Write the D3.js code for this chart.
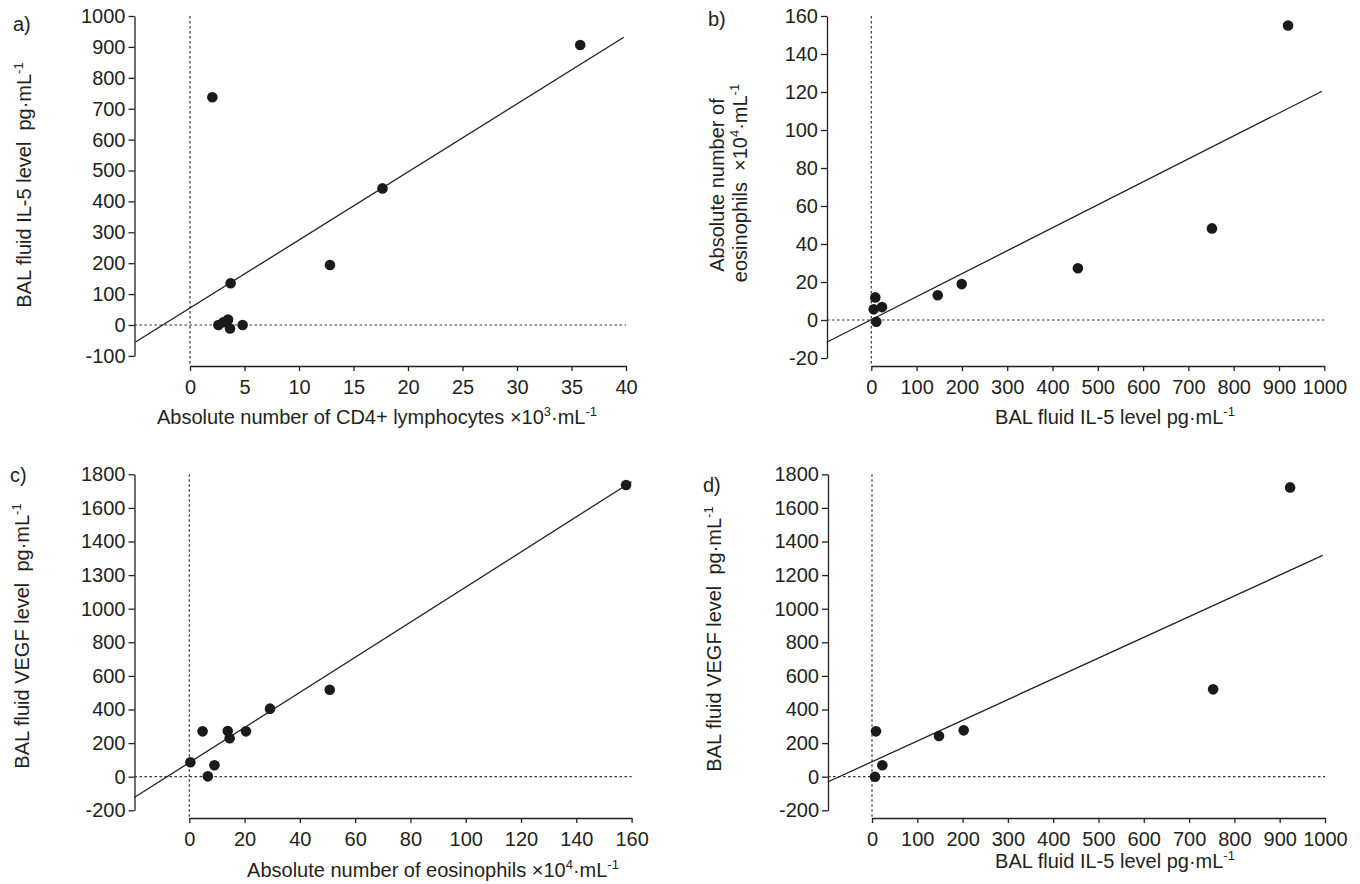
<!DOCTYPE html>
<html>
<head>
<meta charset="utf-8">
<script src="https://cdn.jsdelivr.net/npm/d3@7"></script>
<style>
  body { margin: 0; background: #fff; }
  svg { display: block; }
  text { font-family: "Liberation Sans", Arial, Helvetica, sans-serif; fill: #231f20; }
</style>
</head>
<body>
<svg id="chart" width="1360" height="884"></svg>
<script>
// a) CD4+ lymphocytes vs BAL IL-5
const cd4Count = [35.8, 2.05, 17.66, 12.84, 3.73, 2.6, 3.06, 3.49, 3.67, 4.83];
const il5ByCd4 = [906, 737, 442, 194, 135, 0, 9, 18, -11, 0];
const fitA = [[-5, -55], [39.8, 931]];

// b) BAL IL-5 vs eosinophils
const il5Level = [920, 752, 456, 199.6, 146.6, 8.8, 5.3, 23.6, 11];
const eosByIl5 = [155, 48.2, 27.2, 18.9, 13, 11.9, 5.6, 6.8, -0.9];
const fitB = [[-98.5, -11.7], [995, 120.4]];

// c) eosinophils vs BAL VEGF
const eosCount = [158, 50.8, 29.2, 20.5, 13.9, 14.6, 4.8, 0.4, 9.1, 6.7];
const vegfByEos = [1736, 518, 405, 270, 272, 229, 270, 86, 68, 2];
const fitC = [[-19.9, -124], [160, 1756]];

// d) BAL IL-5 vs BAL VEGF
const il5LevelD = [923, 753, 202.4, 147.9, 8.8, 22.8, 6.6];
const vegfByIl5 = [1722, 520, 276, 242, 270, 68, 0];
const fitD = [[-97.8, -31.7], [995, 1317]];

// ticks
const xTicksA = [0, 5, 10, 15, 20, 25, 30, 35, 40];
const yTicksA = [-100, 0, 100, 200, 300, 400, 500, 600, 700, 800, 900, 1000];
const xTicksB = [0, 100, 200, 300, 400, 500, 600, 700, 800, 900, 1000];
const yTicksB = [-20, 0, 20, 40, 60, 80, 100, 120, 140, 160];
const xTicksC = [0, 20, 40, 60, 80, 100, 120, 140, 160];
const yTicksC = [-200, 0, 200, 400, 600, 800, 1000, 1200, 1400, 1600, 1800];
const yLabelsC = ["-200", "0", "200", "400", "600", "800", "1000", "1300", "1400", "1600", "1800"];
const xTicksD = xTicksB;
const yTicksD = yTicksC;

const svg = d3.select("#chart");

// text helper: parts are [string, isSuperscript]
function richText(sel, parts) {
    let raised = false;
    parts.forEach(p => {
        const t = sel.append("tspan").text(p[0]);
        if (p[1] && !raised) { t.attr("dy", -8).attr("font-size", 13); raised = true; }
        else if (p[1]) { t.attr("font-size", 13); }
        else if (raised) { t.attr("dy", 8); raised = false; }
    });
}

function drawPanel(cfg) {
    const g = svg.append("g");
    const xs = cfg.xTicks, ys = cfg.yTicks;

    const x = d3.scaleLinear().domain([0, xs[xs.length - 1]]).range(cfg.xRange);
    const y0 = d3.scaleLinear().domain([0, ys[ys.length - 1]]).range(cfg.yRange);
    const y = d3.scaleLinear().domain([ys[0], ys[ys.length - 1]]).range([y0(ys[0]), cfg.yRange[1]]);

    const xAxis = g.append("g")
        .attr("transform", `translate(0,${cfg.xAxisY})`)
        .call(d3.axisBottom(x).tickValues(xs).tickSize(5).tickPadding(9).tickSizeOuter(0)
            .tickFormat(d3.format("d")));
    const yAxis = g.append("g")
        .attr("transform", `translate(${cfg.yAxisX},0)`)
        .call(d3.axisLeft(y).tickValues(ys).tickSize(6).tickPadding(3).tickSizeOuter(0)
            .tickFormat((d, i) => cfg.yLabels ? cfg.yLabels[i] : String(d)));

    [xAxis, yAxis].forEach(a => {
        a.selectAll("path, line").attr("stroke", "#231f20").attr("stroke-width", 1.3);
        a.selectAll("text").attr("font-size", 20).attr("fill", "#231f20")
            .style("font-family", '"Liberation Sans", Arial, sans-serif');
    });

    // zero reference lines
    g.append("line")
        .attr("x1", x(0)).attr("x2", x(0))
        .attr("y1", y(ys[ys.length - 1])).attr("y2", cfg.xAxisY)
        .attr("stroke", "#333").attr("stroke-width", 1.2).attr("stroke-dasharray", "2.5,2.5");
    g.append("line")
        .attr("x1", cfg.yAxisX).attr("x2", x(xs[xs.length - 1]))
        .attr("y1", y(0)).attr("y2", y(0))
        .attr("stroke", "#333").attr("stroke-width", 1.2).attr("stroke-dasharray", "2.5,2.5");

    // regression line
    g.append("path")
        .datum(cfg.fit)
        .attr("d", d3.line().x(d => x(d[0])).y(d => y(d[1])))
        .attr("fill", "none").attr("stroke", "#231f20").attr("stroke-width", 1.3);

    g.selectAll("circle")
        .data(cfg.xv.map((v, i) => [v, cfg.yv[i]]))
        .enter().append("circle")
        .attr("cx", d => x(d[0]))
        .attr("cy", d => y(d[1]))
        .attr("r", 5.3)
        .attr("fill", "#1a1a1a");

    g.append("text").attr("x", cfg.tag[1]).attr("y", cfg.tag[2])
        .attr("font-size", 20).text(cfg.tag[0]);

    const xt = g.append("text").attr("x", cfg.xTitlePos[0]).attr("y", cfg.xTitlePos[1])
        .attr("text-anchor", "middle").attr("font-size", 20);
    richText(xt, cfg.xTitle);

    cfg.yTitle.forEach((line, i) => {
        const pos = cfg.yTitlePos[i];
        const yt = g.append("text")
            .attr("transform", `translate(${pos[0]},${pos[1]}) rotate(-90)`)
            .attr("text-anchor", "middle").attr("font-size", 20);
        richText(yt, line);
    });
}

const ilTitle = [["BAL fluid IL-5 level pg·mL"], ["-1", true]];

drawPanel({
    xv: cd4Count, yv: il5ByCd4, fit: fitA,
    xTicks: xTicksA, yTicks: yTicksA,
    xRange: [190, 626], yRange: [325, 16], yAxisX: 134.5, xAxisY: 366,
    tag: ["a)", 13, 31],
    xTitle: [["Absolute number of CD4+ lymphocytes \u00d710"], ["3", true], ["·mL"], ["-1", true]],
    xTitlePos: [377, 424],
    yTitle: [[["BAL fluid IL-5 level\u00a0\u00a0pg·mL"], ["-1", true]]],
    yTitlePos: [[31, 185]]
});

drawPanel({
    xv: il5Level, yv: eosByIl5, fit: fitB,
    xTicks: xTicksB, yTicks: yTicksB,
    xRange: [871.3, 1324.3], yRange: [320, 16], yAxisX: 827, xAxisY: 366,
    tag: ["b)", 708, 26],
    xTitle: ilTitle,
    xTitlePos: [1115, 424],
    yTitle: [[["Absolute number of"]], [["eosinophils\u00a0\u00a0\u00d710"], ["4", true], ["·mL"], ["-1", true]]],
    yTitlePos: [[724, 185], [747, 183]]
});

drawPanel({
    xv: eosCount, yv: vegfByEos, fit: fitC,
    xTicks: xTicksC, yTicks: yTicksC, yLabels: yLabelsC,
    xRange: [189.3, 631.6], yRange: [776.7, 474.3], yAxisX: 134.5, xAxisY: 818,
    tag: ["c)", 10, 482],
    xTitle: [["Absolute number of eosinophils \u00d710"], ["4", true], ["·mL"], ["-1", true]],
    xTitlePos: [433, 877],
    yTitle: [[["BAL fluid VEGF level\u00a0\u00a0pg·mL"], ["-1", true]]],
    yTitlePos: [[29, 636]]
});

drawPanel({
    xv: il5LevelD, yv: vegfByIl5, fit: fitD,
    xTicks: xTicksD, yTicks: yTicksD,
    xRange: [872, 1325], yRange: [776.7, 474.3], yAxisX: 828, xAxisY: 818,
    tag: ["d)", 703, 492],
    xTitle: ilTitle,
    xTitlePos: [1115, 868],
    yTitle: [[["BAL fluid VEGF level\u00a0\u00a0pg·mL"], ["-1", true]]],
    yTitlePos: [[721, 639]]
});
</script>
</body>
</html>
